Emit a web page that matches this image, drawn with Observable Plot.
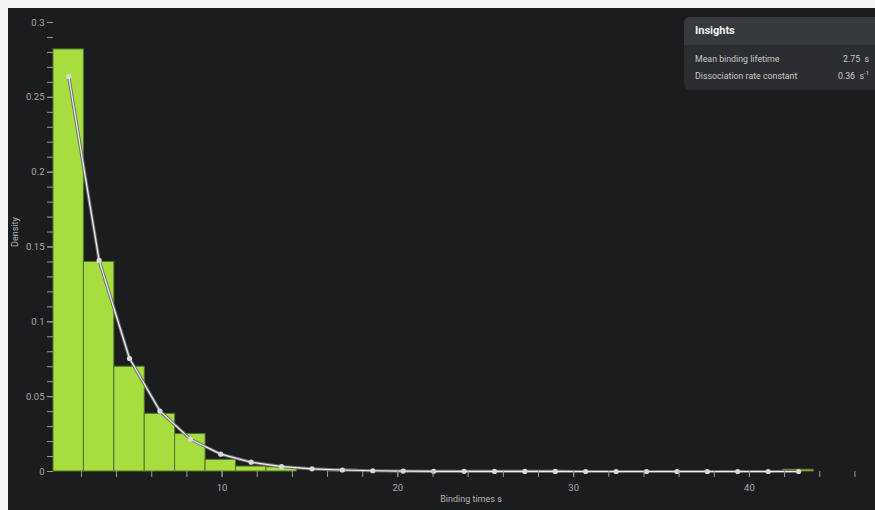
<!DOCTYPE html>
<html>
<head>
<meta charset="utf-8">
<script src="https://cdn.jsdelivr.net/npm/d3@7"></script>
<script src="https://cdn.jsdelivr.net/npm/@observablehq/plot@0.6"></script>
<style>
  html, body { margin: 0; padding: 0; background: #f4f4f4; }
  #wrap { position: absolute; left: 8px; top: 8px; width: 867px; height: 502px; background: #1b1c1e; overflow: hidden; font-family: Roboto, "Open Sans", sans-serif; }
  #chart svg { display: block; }
  #insights { position: absolute; left: 676px; top: 9px; width: 205px; height: 73px; background: #2b2d31; border-radius: 6px; overflow: hidden; color: #d6d6d6; }
  #insights .hd { height: 28px; background: #36393d; color: #f2f2f2; font-weight: 700; font-size: 11px; line-height: 28px; padding-left: 11px; }
  #insights .row { position: relative; height: 17px; font-size: 8.8px; line-height: 17px; padding-left: 11px; color: #c8c8c8; }
  #insights .row .v { position: absolute; right: 20px; top: 0; }
  #insights .rows { padding-top: 6px; }
  sup { font-size: 6px; vertical-align: 4px; line-height: 0; }
</style>
</head>
<body>
<div id="wrap">
  <div id="chart"></div>
  <div id="insights">
    <div class="hd">Insights</div>
    <div class="rows">
      <div class="row"><span id="l1"></span><span class="v" id="v1"></span></div>
      <div class="row"><span id="l2"></span><span class="v" id="v2"></span></div>
    </div>
  </div>
</div>
<script>
// Histogram bin edges (seconds) and densities
const binEdges = [0.41, 2.14, 3.87, 5.60, 7.33, 9.06, 10.79, 12.52, 14.25, 15.98, 17.71, 19.44, 21.17,
  22.90, 24.63, 26.36, 28.09, 29.82, 31.55, 33.28, 35.01, 36.74, 38.47, 40.20, 41.93, 43.66];
const binDensity = [0.282, 0.140, 0.070, 0.0385, 0.025, 0.0078, 0.0033, 0.0028, 0, 0.0012,
  0, 0, 0, 0, 0, 0, 0, 0, 0, 0, 0, 0, 0, 0, 0.0012];
// Fitted curve values at bin centres
const fitDensity = [0.264, 0.141, 0.0755, 0.0404, 0.0216, 0.0116, 0.0062, 0.0033, 0.0018, 0.0010,
  0.0005, 0.0003, 0.00015, 0.0001, 0.00005, 0.00003, 0.00002, 0.00001, 0, 0, 0, 0, 0, 0, 0];
// Tick values
const yTickLabels = [0, 0.05, 0.1, 0.15, 0.2, 0.25, 0.3];
const yMinorTicks = d3.range(0, 31).map(i => i / 100);
const xTickLabels = [10, 20, 30, 40];
const xMinorTicks = d3.range(2, 47, 2);
// Insights
const insightLabels = ["Mean binding lifetime", "Dissociation rate constant"];
const insightValues = ["2.75", "0.36"];
const insightUnits = ["s", "s<sup>-1</sup>"];

const bins = binDensity.map((d, i) => ({x1: binEdges[i], x2: binEdges[i + 1], density: d}));
const fit = fitDensity.map((d, i) => ({t: (binEdges[i] + binEdges[i + 1]) / 2, density: d}));

const axisColor = "#9a9a9a";
const chart = Plot.plot({
  width: 867,
  height: 502,
  marginLeft: 45,
  marginRight: 3,
  marginTop: 14,
  marginBottom: 39,
  style: {background: "transparent", color: axisColor, fontFamily: "Roboto, 'Open Sans', sans-serif", fontSize: "9.5px"},
  x: {domain: [0.41, 47], axis: null},
  y: {domain: [0, 0.3], axis: null},
  marks: [
    Plot.rectY(bins.filter(b => b.density > 0), {x1: "x1", x2: "x2", y: "density", fill: "#a8dd40", stroke: "#56742a", strokeWidth: 1}),
    Plot.line(fit, {x: "t", y: "density", stroke: "#6e6f72", strokeWidth: 3.2}),
    Plot.line(fit, {x: "t", y: "density", stroke: "#eeeeee", strokeWidth: 1.2}),
    Plot.dot(fit, {x: "t", y: "density", r: 2.6, fill: "#d8d8d8", stroke: null}),
    Plot.axisY({ticks: yMinorTicks, tickSize: 6, tickFormat: () => "", stroke: axisColor, label: null}),
    Plot.axisY({ticks: yTickLabels, tickSize: 6, tickPadding: 3, tickFormat: d => String(d), stroke: axisColor, fill: "#a8a8a8", label: null}),
    Plot.axisX({ticks: xMinorTicks, tickSize: 6, tickFormat: () => "", stroke: axisColor, label: null}),
    Plot.axisX({ticks: xTickLabels, tickSize: 6, tickPadding: 7, tickFormat: d => String(d), stroke: axisColor, fill: "#a8a8a8", label: null}),
    Plot.text(["Binding times s"], {frameAnchor: "bottom", dx: 8, dy: 30, fill: "#b4b4b4", fontSize: 9}),
    Plot.text(["Density"], {frameAnchor: "left", dx: -38, rotate: -90, fill: "#b4b4b4", fontSize: 9})
  ]
});
document.getElementById("chart").appendChild(chart);

document.getElementById("l1").textContent = insightLabels[0];
document.getElementById("l2").textContent = insightLabels[1];
document.getElementById("v1").innerHTML = insightValues[0] + "&nbsp; " + insightUnits[0];
document.getElementById("v2").innerHTML = insightValues[1] + "&nbsp; " + insightUnits[1];
</script>
</body>
</html>
